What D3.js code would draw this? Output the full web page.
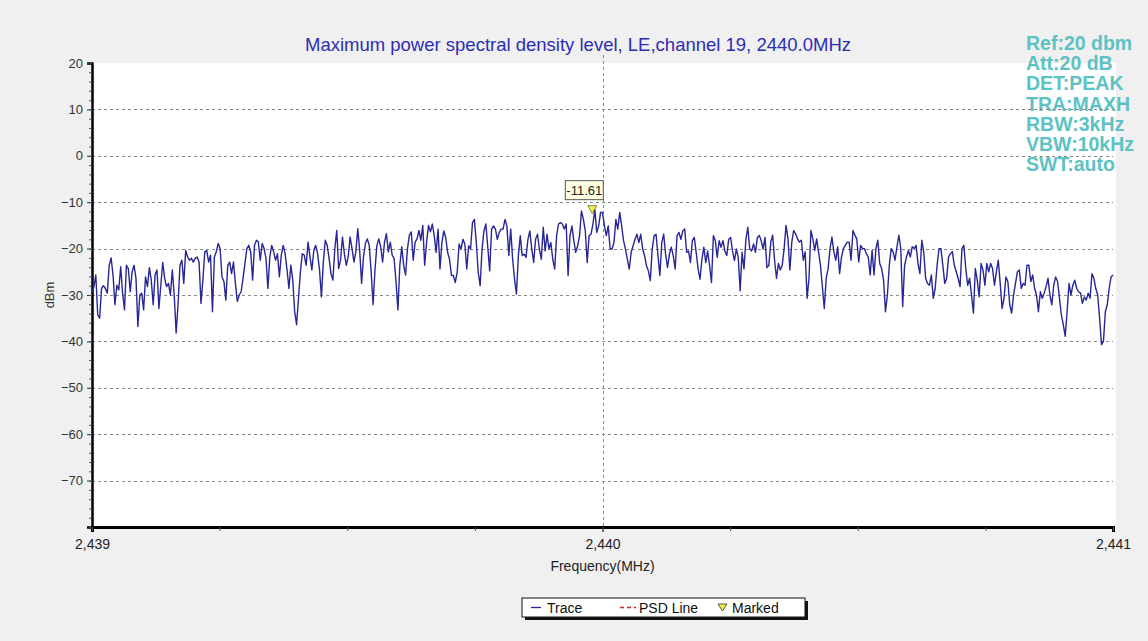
<!DOCTYPE html>
<html>
<head>
<meta charset="utf-8">
<script src="https://cdn.jsdelivr.net/npm/d3@7"></script>
<style>
  body { margin: 0; background: #f0f0f0; }
  svg { display: block; font-family: "Liberation Sans", Arial, sans-serif; }
</style>
</head>
<body>
<div id="chart"></div>
<script>
// chart values
const title = "Maximum power spectral density level, LE,channel 19, 2440.0MHz";
const freqDomain = [2439, 2441];
const levelDomain = [-80, 20];
const yTicks = [20, 10, 0, -10, -20, -30, -40, -50, -60, -70];
const xTicks = [2439, 2440, 2441];
const xTickLabels = ["2,439", "2,440", "2,441"];
const settings = ["Ref:20 dbm", "Att:20 dB", "DET:PEAK", "TRA:MAXH", "RBW:3kHz", "VBW:10kHz", "SWT:auto"];
const markerFreq = 2439.98;
const markerLevel = -11.61;
const legendItems = ["Trace", "PSD Line", "Marked"];

// trace samples (dBm), evenly spaced from 2439 to 2441 MHz
const traceLevels = [
  -29.3, -28.2, -25.7, -34.3, -35, -28.6, -28, -28.6, -29.6, -23.6, -22, -25.7, -32.1, -27.9, -28.9, -23.9,
  -29.6, -33.2, -23.6, -24.3, -29.3, -25, -23.6, -26.4, -36.8, -30, -29.6, -33.2, -26.1, -28.2, -24.1, -26.8,
  -32.1, -25.7, -24.6, -32.9, -27.9, -23, -26.4, -28.2, -27.5, -30, -24.6, -30, -38.2, -32.1, -23.6, -22.5,
  -27.5, -20.4, -21.8, -22.5, -22.1, -22.9, -22.1, -21.8, -22.9, -31.8, -26.8, -20.7, -20.4, -22.9, -21.4, -33.6,
  -21.8, -20.7, -18.9, -20, -26.1, -27.1, -31.1, -23.6, -22.9, -25.4, -22.9, -27.5, -31.4, -30, -29.3, -26.4,
  -23.2, -20, -19.3, -20.7, -26.8, -19.3, -18.2,
  -18.6, -22.5, -18.9, -20, -22.1, -28.6, -21.8, -19.3, -20.7, -22.5, -21.1, -26.1, -21.4, -19.3, -21.1, -24.6,
  -28.6, -23.6, -26.8, -33.6, -36.4, -30.7, -25, -21.1, -21.4, -23.6, -18.6, -21.8, -24.6, -20.4, -19.3, -21.1,
  -24.6, -30.4, -22.9, -18.2, -19.3, -22.1, -25.4, -26.8, -20, -16.1, -24.3, -22.5, -17.5, -21.1, -23.6, -21.8,
  -17.5, -20, -22.9, -20.7, -15.7, -20.4, -27.5, -21.8, -18.9, -17.9, -19.3, -25, -32.1, -24.6, -19.3, -17.9,
  -19.6, -22.9, -18.6, -16.8, -20.7, -18.6, -21.4, -22.1, -27.1, -33.2, -23.6, -19.6, -23.6, -25.7, -20, -17.1,
  -16.4, -22.5, -18.6, -17.9, -16.1, -18.2, -15, -23.6, -18.6, -15, -16.4,
  -14.7, -17.2, -20.8, -15.8, -24.4, -18.7, -16.2, -17.6, -20.8, -22.3, -25.8, -25.8, -27.3, -25.1, -19, -20.1,
  -18, -19, -24.4, -19.4, -20.1, -14.4, -13.7, -18.7, -25.1, -28, -20.1, -16.2, -14.7, -19.7, -24.8, -15.8,
  -15.1, -15.8, -18, -16.5, -15.8, -15.8, -13.7, -15.1, -21.5, -15.8, -22.3, -26.6, -29.8, -21.5, -17.2, -21.5,
  -21.2, -21.9, -18, -16.2, -20.1, -23, -18, -16.9, -20.1, -22.3, -15.4, -20.5, -16.9, -20.1, -18.7, -22.3,
  -24.4, -17.2, -14.7, -14.4, -14.7, -15.8, -14.7, -25.8, -17.2, -15.1, -18.3, -20.8, -19.4, -17.2, -11.9, -13.7,
  -16.2, -23, -17.2, -16.9, -14.7, -11.61, -16.5, -15.1, -12.2,
  -12.2, -15.1, -17.2, -15.1, -20.1, -20.1, -18.7, -13.7, -15.8, -12.2, -15.1, -18.3, -20.1, -22.3, -24.4, -20.8,
  -19.4, -18, -16.9, -18.7, -16.9, -20.1, -21.5, -23.7, -24.8, -26.9, -20.1, -17.2, -16.9, -21.5, -25.8, -18.7,
  -16.9, -21.2, -24.1, -21.2, -19.7, -21.5, -24.4, -17.2, -16.5, -18, -16.2, -15.8, -20.8, -20.5, -23, -18.3,
  -17.6, -20.8, -24.4, -26.6, -22.3, -19.7, -23, -20.5, -23.7, -27.3, -17.2, -18.3, -21.9, -18.3, -19.7, -18.3,
  -20.5, -21.5, -18, -17.6, -20.5, -22.6, -20.1, -21.9, -29.1, -20.8, -24.4, -18, -15.4, -20.1, -20.5, -19,
  -20.8, -17.6, -17.2, -18.3, -20.1, -17.6, -24.1,
  -23.6, -18.6, -17.1, -22.5, -26.4, -23.2, -24.6, -23.6, -20, -15, -17.9, -24.6, -18.6, -16.1, -16.8, -17.9,
  -18.6, -18.2, -22.5, -20.7, -30.7, -26.4, -16.1, -17.9, -20.4, -17.9, -20.7, -23.6, -28.2, -32.9, -26.4, -24.3,
  -20, -17.5, -20.7, -22.5, -19.6, -25.4, -21.8, -20, -19.3, -18.6, -18.6, -22.5, -16.1, -17.1, -17.9, -22.9,
  -19.3, -20, -20, -21.1, -21.8, -25.7, -20.4, -25.7, -20, -18.2, -23.2, -24.3, -26.8, -33.6, -30, -23.6,
  -20, -20.7, -22.5, -19.6, -17.1, -20, -32.5, -23.6, -21.8, -20.4, -21.8, -19.6, -20, -19.3, -23.2, -25.4,
  -18.2, -20.7, -26.4, -27.5, -27.9, -25.7, -30.7, -28.6, -23.6,
  -20, -20, -23.6, -27.5, -26.4, -21.8, -21.1, -20.7, -23.6, -25, -26.4, -28.2, -20, -19.3, -24.3, -27.9,
  -26.4, -30, -33.9, -24.3, -26.8, -30.4, -23.2, -24.6, -27.9, -23.2, -25, -23.2, -24.3, -27.9, -25, -22.5,
  -27.5, -32.9, -30.7, -26.1, -27.1, -32.1, -33.9, -30, -27.5, -25, -24.6, -28.6, -27.5, -27.9, -23.6, -23.6,
  -27.1, -25.7, -28.6, -30, -33.6, -29.3, -30.7, -29.6, -28.2, -26.4, -30, -32.1, -27.9, -26.1, -27.1, -30.7,
  -34.3, -36.4, -38.9, -33.6, -27.5, -30, -27.9, -26.8, -28.6, -29.3, -29.6, -31.8, -30.4, -31.1, -29.6, -30.7,
  -25.4, -26.4, -28.6, -30, -35, -40.7, -40, -33.6, -32.1, -28.6, -26.1, -25.7
];

const width = 1148, height = 641;
const margin = { left: 92, right: 35, top: 63, bottom: 114 };

const x = d3.scaleLinear().domain(freqDomain).range([margin.left, width - margin.right]);
const y = d3.scaleLinear().domain(levelDomain).range([height - margin.bottom, margin.top]);

const step = (freqDomain[1] - freqDomain[0]) / (traceLevels.length - 1);
const trace = traceLevels.map((v, i) => ({ f: freqDomain[0] + i * step, v: v }));

const svg = d3.select("#chart").append("svg")
  .attr("width", width)
  .attr("height", height);

svg.append("rect")
  .attr("width", width).attr("height", height)
  .attr("fill", "#f0f0f0");

// plot background
svg.append("rect")
  .attr("x", x(freqDomain[0]))
  .attr("y", y(levelDomain[1]))
  .attr("width", x(freqDomain[1]) - x(freqDomain[0]) + 3)
  .attr("height", y(levelDomain[0]) - y(levelDomain[1]))
  .attr("fill", "#fff");

// title
svg.append("text")
  .attr("x", 578)
  .attr("y", 51)
  .attr("text-anchor", "middle")
  .attr("font-size", 18.5)
  .attr("fill", "#2d2db4")
  .text(title);

// analyser settings
svg.append("g")
  .selectAll("text")
  .data(settings)
  .enter().append("text")
  .attr("x", 1026)
  .attr("y", (d, i) => 50 + i * 20.2)
  .attr("font-size", 19.5)
  .attr("font-weight", "bold")
  .attr("fill", "#5cc2c4")
  .text(d => d);

// grid
const grid = svg.append("g")
  .attr("stroke", "#8a8a8a")
  .attr("stroke-dasharray", "3,3")
  .attr("stroke-width", 1);

grid.selectAll("line.h")
  .data(yTicks.filter(d => d < levelDomain[1]))
  .enter().append("line")
  .attr("x1", x(freqDomain[0])).attr("x2", x(freqDomain[1]))
  .attr("y1", d => Math.round(y(d)) + 0.5).attr("y2", d => Math.round(y(d)) + 0.5);

grid.append("line")
  .attr("x1", Math.round(x(2440)) + 0.5).attr("x2", Math.round(x(2440)) + 0.5)
  .attr("y1", y(levelDomain[1]) - 8).attr("y2", y(levelDomain[0]));

// y axis
const yAxis = svg.append("g")
  .attr("transform", `translate(${x(freqDomain[0])},0)`)
  .call(d3.axisLeft(y).tickValues(yTicks).tickSize(5).tickPadding(4));
yAxis.select(".domain").attr("stroke", "#000").attr("stroke-width", 2.5);
yAxis.selectAll("text").attr("font-size", 13).attr("fill", "#333")
  .attr("font-family", "'Liberation Sans', Arial, sans-serif");
yAxis.selectAll(".tick line").attr("stroke", "#333");

svg.append("g")
  .attr("transform", `translate(${x(freqDomain[0])},0)`)
  .call(d3.axisLeft(y).tickValues(d3.range(-80, 20, 2)).tickSize(3).tickFormat(""))
  .call(g => g.select(".domain").remove())
  .selectAll("line").attr("stroke", "#555");

// x axis
const xAxis = svg.append("g")
  .attr("transform", `translate(0,${y(levelDomain[0])})`)
  .call(d3.axisBottom(x).tickValues(xTicks).tickFormat((d, i) => xTickLabels[i]).tickSize(5).tickPadding(7));
xAxis.select(".domain").attr("stroke", "#000").attr("stroke-width", 3);
xAxis.selectAll("text").attr("font-size", 14).attr("fill", "#222")
  .attr("font-family", "'Liberation Sans Narrow', 'Arial Narrow', sans-serif");

svg.append("g")
  .attr("transform", `translate(0,${y(levelDomain[0])})`)
  .call(d3.axisBottom(x).tickValues(d3.range(2439, 2441.01, 0.25)).tickSize(4).tickFormat(""))
  .call(g => g.select(".domain").remove())
  .selectAll("line").attr("stroke", "#555");

svg.append("text")
  .attr("x", x(2440))
  .attr("y", 571)
  .attr("text-anchor", "middle")
  .attr("font-size", 14)
  .attr("font-family", "'Liberation Sans Narrow', 'Arial Narrow', sans-serif")
  .attr("fill", "#222")
  .text("Frequency(MHz)");

svg.append("text")
  .attr("transform", `translate(54,${y(-30)}) rotate(-90)`)
  .attr("text-anchor", "middle")
  .attr("font-size", 13)
  .attr("fill", "#333")
  .text("dBm");

// trace
const line = d3.line().x(d => x(d.f)).y(d => y(d.v));
svg.append("path")
  .datum(trace)
  .attr("d", line)
  .attr("fill", "none")
  .attr("stroke", "#262696")
  .attr("stroke-width", 1.4)
  .attr("stroke-linejoin", "round");

// marker
const mx = x(markerFreq), my = y(markerLevel);
svg.append("path")
  .attr("d", `M${mx - 4.5},${my - 4}L${mx + 4.5},${my - 4}L${mx},${my + 4}Z`)
  .attr("fill", "#f0f04a")
  .attr("stroke", "#6b6b20")
  .attr("stroke-width", 0.8);

const mbox = svg.append("g").attr("transform", `translate(${mx - 27},${my - 29})`);
mbox.append("rect")
  .attr("width", 38).attr("height", 19)
  .attr("fill", "#ffffe1")
  .attr("stroke", "#555");
mbox.append("text")
  .attr("x", 19).attr("y", 14)
  .attr("text-anchor", "middle")
  .attr("font-size", 13)
  .attr("fill", "#222")
  .text(markerLevel.toFixed(2));

// legend
const legend = svg.append("g").attr("transform", "translate(522,598)");
legend.append("rect")
  .attr("x", 3).attr("y", 3).attr("width", 283).attr("height", 19)
  .attr("fill", "#111");
legend.append("rect")
  .attr("width", 283).attr("height", 19)
  .attr("fill", "#fff").attr("stroke", "#111");

legend.append("line")
  .attr("x1", 9).attr("x2", 19).attr("y1", 9.5).attr("y2", 9.5)
  .attr("stroke", "#262696").attr("stroke-width", 1.3);
legend.append("line")
  .attr("x1", 98).attr("x2", 114).attr("y1", 9.5).attr("y2", 9.5)
  .attr("stroke", "#d02020").attr("stroke-width", 1.5).attr("stroke-dasharray", "4,3");
legend.append("path")
  .attr("d", "M196,6L205,6L200.5,13Z")
  .attr("fill", "#f0f04a").attr("stroke", "#333").attr("stroke-width", 0.8);

legend.selectAll("text.item")
  .data(legendItems)
  .enter().append("text")
  .attr("x", (d, i) => [25, 117, 210][i])
  .attr("y", 14.5)
  .attr("font-size", 14)
  .attr("fill", "#111")
  .text(d => d);
</script>
</body>
</html>
